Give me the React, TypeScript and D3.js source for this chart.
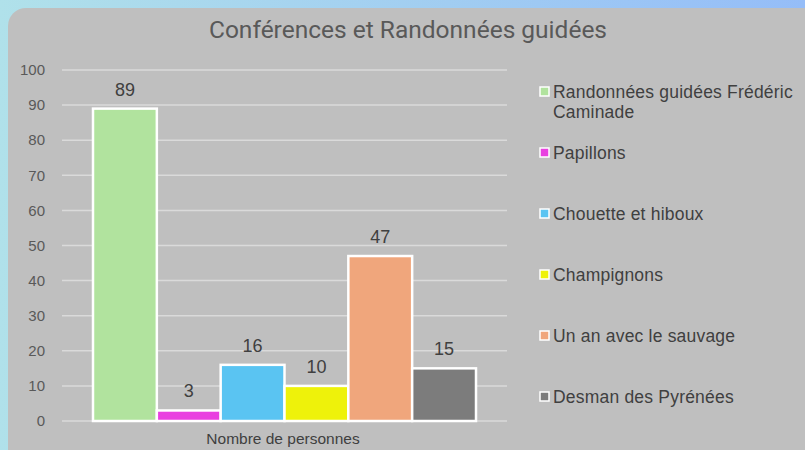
import React from 'react';
import * as d3 from 'd3';

const categories = [
  'Randonnées guidées Frédéric Caminade',
  'Papillons',
  'Chouette et hiboux',
  'Champignons',
  'Un an avec le sauvage',
  'Desman des Pyrénées'
];
const values = [89, 3, 16, 10, 47, 15];
const legendLines = [
  ['Randonnées guidées Frédéric', 'Caminade'],
  ['Papillons'],
  ['Chouette et hiboux'],
  ['Champignons'],
  ['Un an avec le sauvage'],
  ['Desman des Pyrénées']
];
const colors = ['#b1e39e', '#e940e0', '#5ac4f2', '#eef20a', '#f0a67c', '#7c7c7c'];
const title = 'Conférences et Randonnées guidées';
const xTitle = 'Nombre de personnes';

const W = 805;
const H = 450;
const font = '"Liberation Sans", Arial, sans-serif';

const App: React.FC = () => {
  // échelles
  const x = d3.scaleBand<string>().domain(categories).range([93, 476]).padding(0);
  const y = d3.scaleLinear().domain([0, 100]).range([421, 70]);
  const ticks = y.ticks(10);

  return (
    <svg
      width={W}
      height={H}
      style={{ position: 'fixed', left: 0, top: 0, display: 'block' }}
    >
      <defs>
        <linearGradient id="bg" x1="0" y1="0" x2="1" y2="0">
          <stop offset="0%" stopColor="#b0e1ea" />
          <stop offset="100%" stopColor="#95bdf8" />
        </linearGradient>
      </defs>
      <rect width={W} height={H} fill="url(#bg)" />
      <rect x={8} y={8} width={W + 20} height={H + 20} rx={18} fill="#bfbfbf" />

      {/* titre */}
      <text
        x={408}
        y={38}
        textAnchor="middle"
        fontFamily="Roboto, sans-serif"
        fontSize={24.5}
        fill="#595959"
      >
        {title}
      </text>

      {/* grille et axe Y */}
      {ticks.map(t => (
        <g key={t}>
          <line x1={62} x2={507} y1={y(t)} y2={y(t)} stroke="#dadada" strokeWidth={1.5} />
          <text
            x={45}
            y={y(t)}
            dy="0.35em"
            textAnchor="end"
            fontFamily={font}
            fontSize={15}
            fill="#595959"
          >
            {t}
          </text>
        </g>
      ))}

      {/* barres */}
      {categories.map((c, i) => (
        <g key={c}>
          <rect
            x={x(c)!}
            y={y(values[i])}
            width={x.bandwidth()}
            height={y(0) - y(values[i])}
            fill={colors[i]}
            stroke="#ffffff"
            strokeWidth={2.5}
          />
          <text
            x={x(c)! + x.bandwidth() / 2}
            y={y(values[i]) - 13}
            textAnchor="middle"
            fontFamily={font}
            fontSize={18}
            fill="#404040"
          >
            {values[i]}
          </text>
        </g>
      ))}

      {/* titre axe X */}
      <text
        x={283}
        y={444}
        textAnchor="middle"
        fontFamily={font}
        fontSize={15.5}
        fill="#404040"
      >
        {xTitle}
      </text>

      {/* légende */}
      {legendLines.map((lines, i) => {
        const base = 98 + i * 61;
        return (
          <g key={i}>
            <rect
              x={540}
              y={base - 11}
              width={9}
              height={9}
              fill={colors[i]}
              stroke="#ffffff"
              strokeWidth={1.5}
            />
            {lines.map((l, j) => (
              <text
                key={j}
                x={553}
                y={base + j * 20}
                fontFamily={font}
                fontSize={17.5}
                letterSpacing={0.2}
                fill="#404040"
              >
                {l}
              </text>
            ))}
          </g>
        );
      })}
    </svg>
  );
};

export default App;
